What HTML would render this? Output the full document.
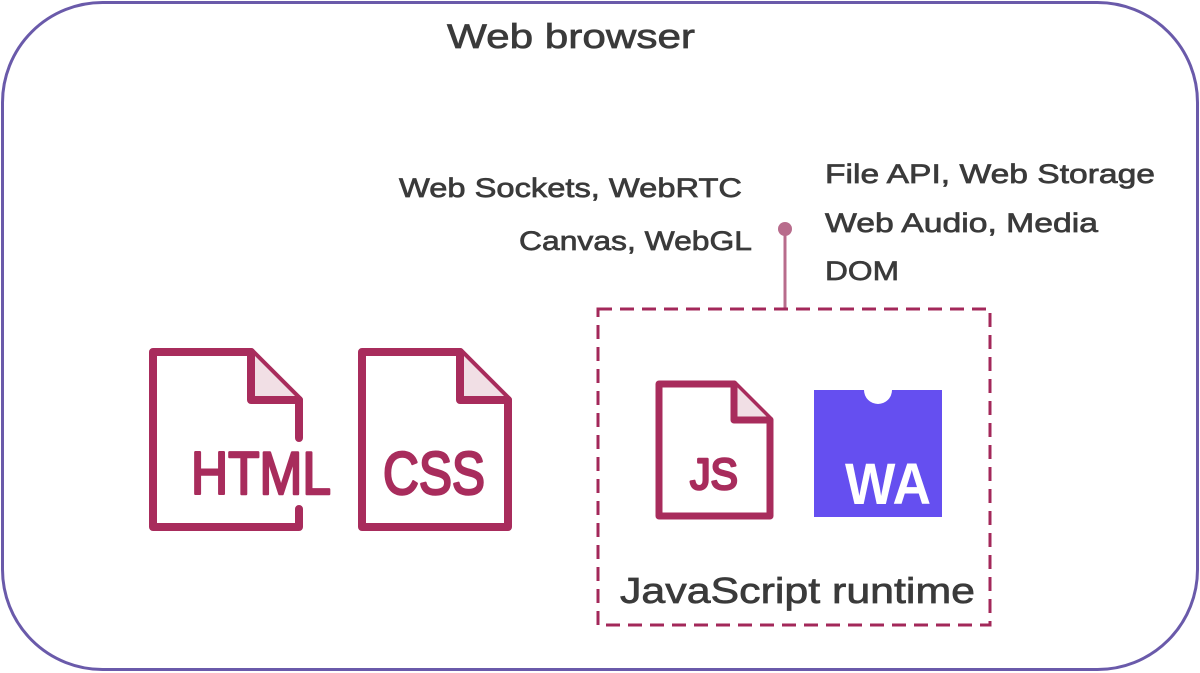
<!DOCTYPE html>
<html><head><meta charset="utf-8"><style>
html,body{margin:0;padding:0;background:#fff;}
svg{display:block;}
text{font-family:"Liberation Sans",sans-serif;fill:#3a3a3a;}
.l{stroke:#3a3a3a;stroke-width:0.7;}
.ic{fill:#a82c5c;stroke:#a82c5c;stroke-width:2.5;stroke-linejoin:round;}
</style></head><body>
<svg width="1200" height="673" viewBox="0 0 1200 673" xmlns="http://www.w3.org/2000/svg">
<rect x="2.5" y="2.5" width="1195" height="667" rx="100" ry="100" fill="#fff" stroke="#6a5aaa" stroke-width="3"/>
<text class="l" x="447" y="48" font-size="34" textLength="248" lengthAdjust="spacingAndGlyphs">Web browser</text>

<text class="l" x="399" y="197" font-size="27" textLength="343" lengthAdjust="spacingAndGlyphs">Web Sockets, WebRTC</text>
<text class="l" x="519" y="250" font-size="27" textLength="233" lengthAdjust="spacingAndGlyphs">Canvas, WebGL</text>
<text class="l" x="825" y="183" font-size="27" textLength="330" lengthAdjust="spacingAndGlyphs">File API, Web Storage</text>
<text class="l" x="825" y="232" font-size="27" textLength="273" lengthAdjust="spacingAndGlyphs">Web Audio, Media</text>
<text class="l" x="825" y="280" font-size="27" textLength="74" lengthAdjust="spacingAndGlyphs">DOM</text>

<line x1="785" y1="228" x2="785" y2="309" stroke="#b86c8c" stroke-width="3"/>
<circle cx="785" cy="229" r="7" fill="#b86c8c"/>

<rect x="598" y="309" width="392" height="316" fill="none" stroke="#a3285a" stroke-width="3" stroke-dasharray="14 8"/>

<g fill="none" stroke="#a82c5c" stroke-width="8" stroke-linejoin="round" stroke-linecap="round">
<path d="M299 438 V400 L251 352 H153 V527 H299 V509"/>
<path d="M251 352 V400 H299" fill="#f1dfe5"/>
<path d="M508 400 L460 352 H362 V527 H508 Z"/>
<path d="M460 352 V400 H508" fill="#f1dfe5"/>
<path d="M770 420 L734 384 H659 V516 H770 Z" stroke-width="7"/>
<path d="M734 384 V420 H770" fill="#f1dfe5" stroke-width="7"/>
</g>
<text class="ic" x="191" y="494" font-size="60" textLength="140" lengthAdjust="spacingAndGlyphs">HTML</text>
<text class="ic" x="383" y="494" font-size="60" textLength="102" lengthAdjust="spacingAndGlyphs">CSS</text>
<text class="ic" x="690" y="489" font-size="44" textLength="48" lengthAdjust="spacingAndGlyphs">JS</text>

<path d="M814 390 H864 A14 14 0 0 0 892 390 H942 V517 H814 Z" fill="#654ff0"/>
<text x="845" y="504" font-size="58" font-weight="bold" style="fill:#fff" textLength="86" lengthAdjust="spacingAndGlyphs">WA</text>

<text class="l" x="620" y="603" font-size="36" textLength="355" lengthAdjust="spacingAndGlyphs">JavaScript runtime</text>
</svg>
</body></html>
